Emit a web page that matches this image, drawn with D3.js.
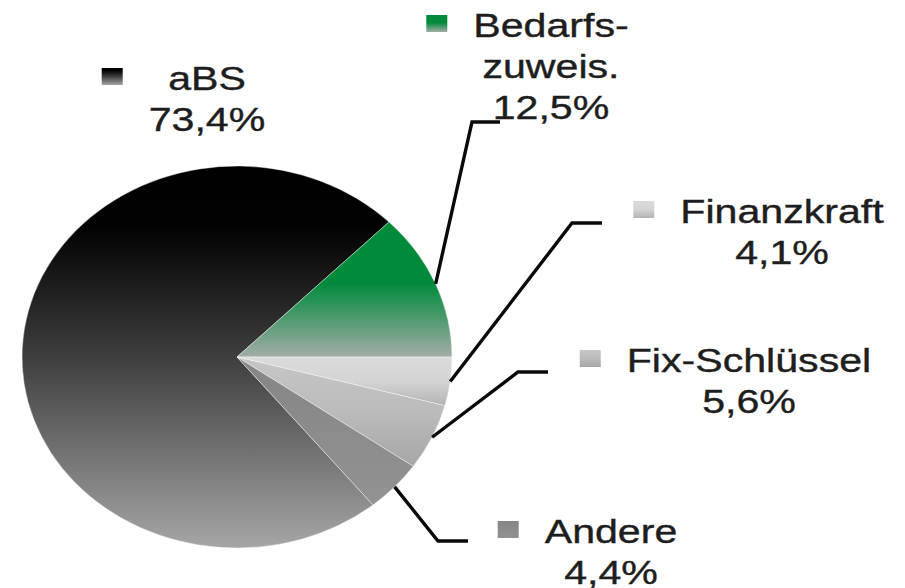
<!DOCTYPE html>
<html>
<head>
<meta charset="utf-8">
<script src="https://cdn.jsdelivr.net/npm/d3@7"></script>
<style>
  body { margin: 0; background: #fff; }
  text { font-family: "Liberation Sans", Arial, sans-serif; }
</style>
</head>
<body>
<div id="chart"></div>
<script>
// Data
const categories = ["aBS", "Bedarfs-\nzuweis.", "Finanzkraft", "Fix-Schlüssel", "Andere"];
const shares = [73.4, 12.5, 4.1, 5.6, 4.4];
const valueLabels = ["73,4%", "12,5%", "4,1%", "5,6%", "4,4%"];

// Gradient stops per slice (top -> bottom)
const sliceStops = [
  [[0, "#000"], [0.16, "#020202"], [0.5, "#3e3e3e"], [1, "#a6a6a6"]],
  [[0, "#008a3b"], [0.45, "#008a3b"], [1, "#a3aca6"]],
  [[0, "#dbdbdb"], [0.5, "#d4d4d4"], [1, "#b3b3b3"]],
  [[0, "#c6c6c6"], [0.5, "#bbbbbb"], [1, "#a6a6a6"]],
  [[0, "#858585"], [1, "#929292"]]
];

// Label layout: centre x and first baseline; leader elbow and end
const labelPos = [
  { cx: 207, y: 90, line: null },
  { cx: 551, y: 37, line: [[472, 122], [500, 122]] },
  { cx: 782, y: 223, line: [[572, 223], [602, 223]] },
  { cx: 749, y: 372, line: [[518, 372], [548, 372]] },
  { cx: 611, y: 543, line: [[438, 541], [468, 541]] }
];

const width = 905, height = 588;
const cx = 237, cy = 357, rx = 215, ry = 191;
const stretch = 1.21, fontSize = 34, lineH = 41;

const svg = d3.select("#chart").append("svg")
  .attr("width", width)
  .attr("height", height);

const defs = svg.append("defs");
sliceStops.forEach((stops, i) => {
  const g = defs.append("linearGradient")
    .attr("id", "grad" + i)
    .attr("x1", 0).attr("y1", 0).attr("x2", 0).attr("y2", 1);
  stops.forEach(s => g.append("stop").attr("offset", s[0]).attr("stop-color", s[1]));
});

const data = categories.map((c, i) => ({ name: c, value: shares[i], label: valueLabels[i], i }));

// pie runs clockwise; Bedarfs-zuweis. ends at 3 o'clock
const total = d3.sum(shares);
const start = Math.PI / 2 - 2 * Math.PI * (shares[0] + shares[1]) / total;
const pie = d3.pie().sort(null).value(d => d.value)
  .startAngle(start).endAngle(start + 2 * Math.PI);
const arcs = pie(data);

const arc = d3.arc().innerRadius(0).outerRadius(rx);

const pieG = svg.append("g")
  .attr("transform", `translate(${cx},${cy}) scale(1,${ry / rx})`);

pieG.selectAll("path")
  .data(arcs)
  .join("path")
  .attr("d", arc)
  .attr("fill", d => `url(#grad${d.data.i})`)
  .attr("stroke", "#fff")
  .attr("stroke-opacity", 0.55)
  .attr("stroke-width", 0.8);

// leader lines from slice mid-angle on the rim
arcs.forEach(d => {
  const pos = labelPos[d.data.i];
  if (!pos.line) return;
  const a = (d.startAngle + d.endAngle) / 2;
  const p0 = [cx + rx * Math.sin(a), cy - ry * Math.cos(a)];
  svg.append("path")
    .attr("d", d3.line()([p0, ...pos.line]))
    .attr("fill", "none")
    .attr("stroke", "#0a0a0a")
    .attr("stroke-width", 3.4);
});

// labels
data.forEach(d => {
  const pos = labelPos[d.i];
  const lines = d.name.split("\n").concat([d.label]);
  const g = svg.append("g")
    .attr("transform", `translate(${pos.cx},${pos.y}) scale(${stretch},1)`);
  let maxW = 0;
  lines.forEach((t, k) => {
    const txt = g.append("text")
      .attr("x", 0)
      .attr("y", k * lineH)
      .attr("text-anchor", "middle")
      .style("font-size", fontSize + "px")
      .style("fill", "#1e1e1e")
      .style("stroke", "#1e1e1e")
      .style("stroke-width", 0.4)
      .text(t);
    maxW = Math.max(maxW, txt.node().getComputedTextLength() * stretch);
  });
  const mw = 21, mh = 17, gap = 26;
  svg.append("rect")
    .attr("x", pos.cx - maxW / 2 - gap - mw)
    .attr("y", pos.y - 22)
    .attr("width", mw)
    .attr("height", mh)
    .attr("fill", `url(#grad${d.i})`);
});
</script>
</body>
</html>
